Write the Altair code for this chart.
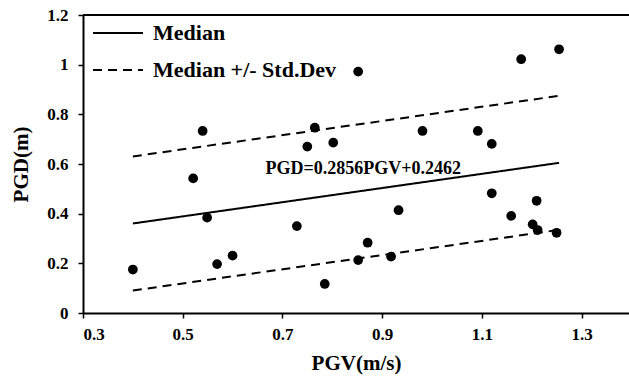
import altair as alt
import pandas as pd

# Observed ground motion: peak ground velocity vs. peak ground displacement
pgv = [0.400, 0.521, 0.540, 0.549, 0.569, 0.600, 0.729, 0.750, 0.765, 0.785,
       0.802, 0.852, 0.852, 0.871, 0.918, 0.933, 0.981, 1.092, 1.120, 1.120,
       1.159, 1.179, 1.202, 1.210, 1.212, 1.250, 1.255]
pgd = [0.175, 0.542, 0.733, 0.384, 0.197, 0.231, 0.350, 0.670, 0.746, 0.117,
       0.686, 0.972, 0.213, 0.283, 0.227, 0.414, 0.733, 0.733, 0.681, 0.482,
       0.391, 1.022, 0.357, 0.452, 0.334, 0.323, 1.062]

# Regression PGD = a*PGV + b, with a +/- one standard deviation band
slope = 0.2856
intercept = 0.2462
std_dev = 0.27
fit_range = [0.40, 1.255]

series_names = ["Median", "Median +/- Std.Dev"]
equation_text = ["PGD=0.2856PGV+0.2462"]
equation_pos = [0.862, 0.560]

x_ticks = [0.3, 0.5, 0.7, 0.9, 1.1, 1.3]
y_ticks = [0.0, 0.2, 0.4, 0.6, 0.8, 1.0, 1.2]

FONT = "Liberation Serif"
W, H = 546, 298
x_max = 0.3 + W / 498.5

points = pd.DataFrame({"PGV": pgv, "PGD": pgd})

rows = []
for name, offset, part in [(series_names[0], 0.0, "mid"),
                           (series_names[1], std_dev, "upper"),
                           (series_names[1], -std_dev, "lower")]:
    for xv in fit_range:
        rows.append({"PGV": xv, "PGD": slope * xv + intercept + offset,
                     "series": name, "part": part})
lines_df = pd.DataFrame(rows)

x_scale = alt.Scale(domain=[0.3, x_max], nice=False, zero=False)
y_scale = alt.Scale(domain=[0, 1.2], nice=False)

x_enc = alt.X("PGV:Q", scale=x_scale,
              axis=alt.Axis(values=x_ticks, format=".1f", title="PGV(m/s)",
                            labelPadding=8, titlePadding=10))
y_enc = alt.Y("PGD:Q", scale=y_scale,
              axis=alt.Axis(values=y_ticks, format=".1~f", title="PGD(m)",
                            labelPadding=10, titlePadding=15))

lines = alt.Chart(lines_df).mark_line(color="black", strokeWidth=2).encode(
    x=x_enc,
    y=y_enc,
    detail="part:N",
    strokeDash=alt.StrokeDash(
        "series:N",
        scale=alt.Scale(domain=series_names, range=[[1, 0], [9, 6]]),
        legend=alt.Legend(
            title=None, orient="none", legendX=9, legendY=-8,
            symbolType="stroke", symbolSize=2500, symbolStrokeWidth=2,
            symbolStrokeColor="black", labelFont=FONT, labelFontWeight="bold",
            labelFontSize=22, labelColor="black", rowPadding=0,
            labelOffset=9, labelLimit=400,
        ),
    ),
)

dots = alt.Chart(points).mark_circle(color="black", opacity=1, size=95).encode(
    x="PGV:Q", y="PGD:Q"
)

eq_df = pd.DataFrame({"PGV": [equation_pos[0]], "PGD": [equation_pos[1]],
                      "label": equation_text})
equation = alt.Chart(eq_df).mark_text(
    font=FONT, fontWeight="bold", fontSize=18, color="black",
    align="center", baseline="alphabetic",
).encode(x="PGV:Q", y="PGD:Q", text="label:N")

top_line = alt.Chart(eq_df).mark_rule(color="black", strokeWidth=2).encode(
    x=alt.value(0), x2=alt.value(W), y=alt.value(0)
)

chart = alt.layer(top_line, lines, dots, equation).properties(
    width=W, height=H,
    autosize=alt.AutoSizeParams(type="none"),
    padding={"left": 83, "top": 15, "right": 0, "bottom": 65},
).configure_view(stroke=None).configure_axis(
    grid=False,
    domainColor="black", domainWidth=2,
    tickColor="black", tickWidth=1.5, tickSize=5,
    labelFont=FONT, labelFontWeight="bold", labelFontSize=17, labelColor="black",
    titleFont=FONT, titleFontWeight="bold", titleFontSize=21, titleColor="black",
)

chart.save("out.html", embed_options={"renderer": "svg", "actions": False})
